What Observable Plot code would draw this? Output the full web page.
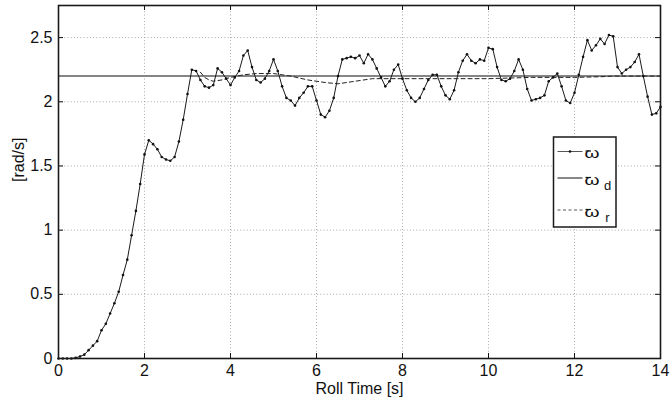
<!DOCTYPE html>
<html>
<head>
<meta charset="utf-8">
<script src="https://cdn.jsdelivr.net/npm/d3@7"></script>
<script src="https://cdn.jsdelivr.net/npm/@observablehq/plot@0.6"></script>
<style>
  html, body { margin: 0; padding: 0; background: #fff; }
  #chart svg { display: block; }
</style>
</head>
<body>
<div id="chart"></div>
<script>
// Measured angular velocity ω [rad/s], sampled every 0.1 s from 0 to 14 s
const omega = [
  0, 0, 0, 0, 0.005, 0.016, 0.03, 0.065, 0.10, 0.135,
  0.22, 0.27, 0.35, 0.43, 0.52, 0.65, 0.77, 0.96, 1.15, 1.36,
  1.59, 1.70, 1.67, 1.63, 1.57, 1.55, 1.54, 1.57, 1.69, 1.86,
  2.06, 2.25, 2.24, 2.17, 2.12, 2.11, 2.13, 2.26, 2.23, 2.18,
  2.13, 2.19, 2.24, 2.36, 2.40, 2.27, 2.17, 2.15, 2.18, 2.24,
  2.33, 2.24, 2.12, 2.03, 2.01, 1.97, 2.03, 2.07, 2.12, 2.12,
  2.01, 1.90, 1.88, 1.93, 2.03, 2.20, 2.33, 2.34, 2.35, 2.34,
  2.36, 2.30, 2.37, 2.33, 2.26, 2.19, 2.12, 2.16, 2.25, 2.29,
  2.18, 2.09, 2.03, 2.00, 2.03, 2.10, 2.17, 2.21, 2.21, 2.12,
  2.05, 2.02, 2.09, 2.23, 2.32, 2.37, 2.32, 2.30, 2.33, 2.32,
  2.42, 2.41, 2.27, 2.17, 2.16, 2.18, 2.24, 2.33, 2.25, 2.10,
  2.01, 2.02, 2.03, 2.05, 2.16, 2.19, 2.22, 2.12, 2.01, 1.99,
  2.07, 2.21, 2.35, 2.48, 2.40, 2.44, 2.49, 2.45, 2.52, 2.51,
  2.27, 2.22, 2.25, 2.27, 2.31, 2.37, 2.20, 2.04, 1.90, 1.91,
  1.96
];
const timeStep = 0.1;

// Desired angular velocity ω_d
const omegaD = 2.2;

// Reference angular velocity ω_r (time, value)
const omegaRTime  = [3.3, 3.4, 3.5, 3.6, 3.8, 4.0, 4.3, 4.6, 5.0, 5.4, 5.8, 6.2, 6.5, 6.9, 7.3, 8.0, 9.0, 10.0, 11.0, 12.0, 12.6, 12.9, 14.0];
const omegaRValue = [2.23, 2.19, 2.17, 2.16, 2.17, 2.19, 2.21, 2.22, 2.22, 2.20, 2.17, 2.15, 2.14, 2.16, 2.18, 2.18, 2.18, 2.18, 2.19, 2.19, 2.195, 2.2, 2.2];

// Axis ticks
const xTicks = [0, 2, 4, 6, 8, 10, 12, 14];
const yTicks = [0, 0.5, 1, 1.5, 2, 2.5];
const xLabel = "Roll Time [s]";
const yLabel = "[rad/s]";

const omegaData = omega.map((v, i) => ({t: +(i * timeStep).toFixed(1), v}));
const omegaRData = omegaRTime.map((t, i) => ({t, v: omegaRValue[i]}));

const W = 671, H = 403;
const M = {left: 58, right: 11, top: 5, bottom: 45};
const plotW = W - M.left - M.right;
const plotH = H - M.top - M.bottom;
const FONT = "'Liberation Sans', Arial, Helvetica, sans-serif";
const tickLen = 5;

const chart = Plot.plot({
  width: W,
  height: H,
  marginLeft: M.left,
  marginRight: M.right,
  marginTop: M.top,
  marginBottom: M.bottom,
  style: {fontFamily: FONT, fontSize: "16px", background: "#fff", color: "#111"},
  x: {domain: [0, 14], label: null},
  y: {domain: [0, 2.75], label: null},
  marks: [
    Plot.gridX(xTicks, {stroke: "#a0a0a0", strokeOpacity: 1, strokeDasharray: "1,2.2", strokeWidth: 0.9}),
    Plot.gridY(yTicks, {stroke: "#a0a0a0", strokeOpacity: 1, strokeDasharray: "1,2.2", strokeWidth: 0.9}),
    Plot.ruleY([omegaD], {stroke: "#858585", strokeWidth: 2}),
    Plot.line(omegaRData, {x: "t", y: "v", stroke: "#222", strokeWidth: 1, strokeDasharray: "4,3"}),
    Plot.line(omegaData, {x: "t", y: "v", stroke: "#1a1a1a", strokeWidth: 1}),
    Plot.dot(omegaData, {x: "t", y: "v", r: 1.3, fill: "#111", stroke: "none"}),
    // inward ticks on all four sides
    Plot.ruleX(xTicks, {stroke: "#111", insetTop: plotH - tickLen}),
    Plot.ruleX(xTicks, {stroke: "#111", insetBottom: plotH - tickLen}),
    Plot.ruleY(yTicks, {stroke: "#111", insetRight: plotW - tickLen}),
    Plot.ruleY(yTicks, {stroke: "#111", insetLeft: plotW - tickLen}),
    Plot.frame({stroke: "#1a1a1a", strokeWidth: 1.6}),
    Plot.axisX(xTicks, {tickSize: 0, tickPadding: 6, tickFormat: d => String(d), fontSize: 16, label: null}),
    Plot.axisY(yTicks, {tickSize: 0, tickPadding: 6, tickFormat: d => String(d), fontSize: 16, label: null}),
    Plot.text([xLabel], {text: d => d, frameAnchor: "bottom", lineAnchor: "middle", dy: 30.5, fontSize: 16, fill: "#111"}),
    Plot.text([yLabel], {text: d => d, frameAnchor: "left", lineAnchor: "middle", dx: -40, rotate: -90, fontSize: 16, fill: "#111"})
  ]
});

document.getElementById("chart").appendChild(chart);

// Legend box inside the plot area (top right region)
const svg = d3.select(chart);
const lg = svg.append("g").attr("font-family", FONT).attr("fill", "#111");
const bx = 553.5, by = 137, bw = 62.5, bh = 90;
lg.append("rect").attr("x", bx).attr("y", by).attr("width", bw).attr("height", bh)
  .attr("fill", "#fff").attr("stroke", "#1a1a1a").attr("stroke-width", 1.5);
const entries = [
  {sub: "", y: 151.5, dash: null, color: "#555", dot: true},
  {sub: "d", y: 178, dash: null, color: "#111", dot: false},
  {sub: "r", y: 210, dash: "3,2.5", color: "#555", dot: false}
];
entries.forEach(e => {
  const ln = lg.append("line").attr("x1", bx + 4).attr("x2", bx + 29).attr("y1", e.y).attr("y2", e.y)
    .attr("stroke", e.color).attr("stroke-width", 1);
  if (e.dash) ln.attr("stroke-dasharray", e.dash);
  if (e.dot) lg.append("circle").attr("cx", bx + 16.5).attr("cy", e.y).attr("r", 1.3).attr("fill", "#111");
  lg.append("line").attr("x1", bx + 32).attr("x2", bx + 37.5).attr("y1", e.y - 0.5).attr("y2", e.y - 0.5)
    .attr("stroke", "#111").attr("stroke-width", 1.2);
  lg.append("text").attr("x", bx + 38.5).attr("y", e.y + 6.5).attr("font-size", 15)
    .attr("textLength", 15).attr("lengthAdjust", "spacingAndGlyphs").text("ω");
  if (e.sub) {
    lg.append("text").attr("x", bx + 54).attr("y", e.y + 12).attr("font-size", 13).text(e.sub);
  }
});
</script>
</body>
</html>
